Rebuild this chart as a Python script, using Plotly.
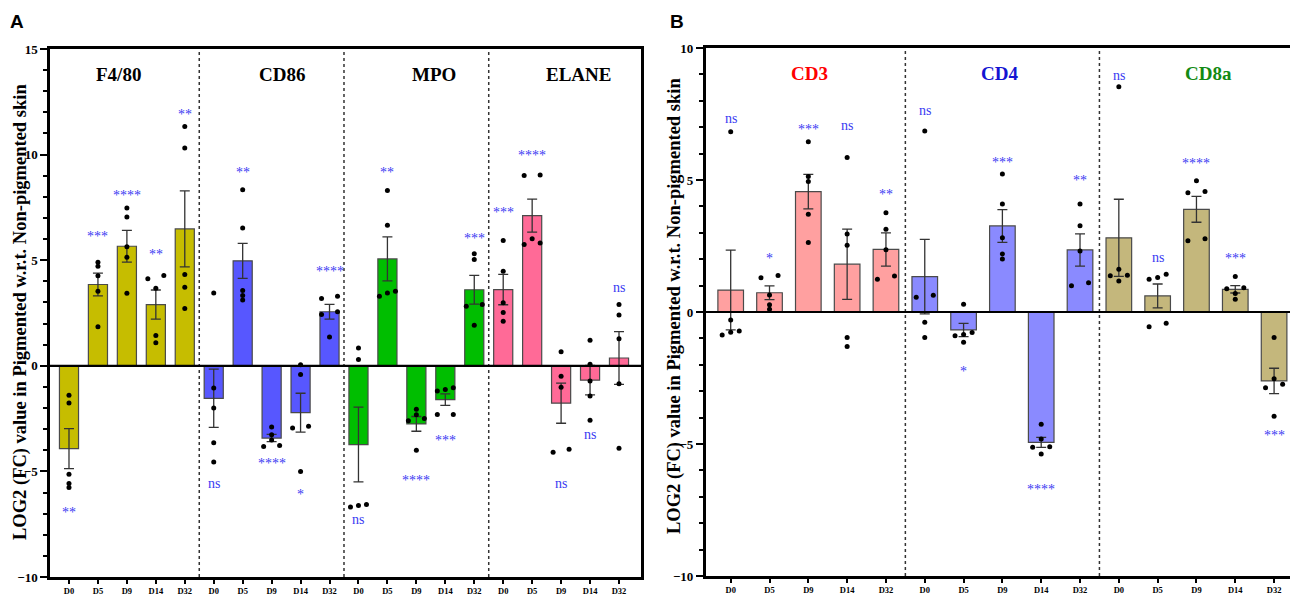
import numpy as np
import plotly.graph_objects as go

days = ["D0", "D5", "D9", "D14", "D32"]

# ---------------- Panel A data ----------------
a_groups = ["F4/80", "CD86", "MPO", "ELANE"]
a_colors = ["#C6BD00", "#5757FF", "#00BE00", "#FF6A97"]

f480_mean = [-3.92, 3.85, 5.66, 2.90, 6.48]
f480_sem = [0.95, 0.54, 0.75, 0.69, 1.80]
f480_pts = [[-1.40, -1.76, -5.13, -5.57, -5.76], [4.90, 4.71, 4.26, 3.53, 1.85],
            [7.47, 7.05, 5.64, 5.14, 3.44], [4.12, 4.27, 3.67, 1.44, 1.09],
            [11.33, 10.31, 4.32, 3.72, 2.71]]
f480_sig = ["**", "***", "****", "**", "**"]
f480_sig_y = [-6.75, 6.29, 8.26, 5.45, 12.08]

cd86_mean = [-1.54, 4.97, -3.42, -2.22, 2.56]
cd86_sem = [1.38, 0.83, 0.17, 0.92, 0.35]
cd86_pts = [[3.45, -1.05, -2.00, -3.64, -4.55], [8.34, 6.53, 3.56, 3.33, 3.12],
            [-2.90, -3.26, -3.51, -3.77, -3.82], [0.05, -0.41, -2.86, -2.94, -5.00],
            [3.29, 3.19, 2.56, 2.43, 1.36]]
cd86_sig = ["ns", "**", "****", "*", "****"]
cd86_sig_y = [-5.57, 9.36, -4.44, -5.92, 4.64]

mpo_mean = [-3.73, 5.06, -2.75, -1.60, 3.60]
mpo_sem = [1.77, 1.04, 0.35, 0.27, 0.68]
mpo_pts = [[0.84, 0.30, -6.69, -6.57, -6.61], [8.30, 6.65, 3.53, 3.45, 3.29],
           [-2.06, -2.32, -2.50, -2.60, -4.00], [-1.19, -1.12, -1.04, -2.31, -2.31],
           [5.30, 5.03, 2.90, 2.82, 1.92]]
mpo_sig = ["ns", "**", "****", "***", "***"]
mpo_sig_y = [-7.29, 9.36, -5.24, -3.34, 6.21]

elane_mean = [3.61, 7.11, -1.77, -0.68, 0.37]
elane_sem = [0.72, 0.78, 0.95, 0.70, 1.25]
elane_pts = [[5.93, 4.48, 2.98, 2.52, 2.11], [9.01, 9.04, 6.02, 5.82, 5.74],
             [0.67, -0.50, -1.01, -3.95, -4.09], [1.21, 0.07, -0.72, -1.43, -2.58],
             [2.90, 2.40, 1.28, -0.85, -3.90]]
elane_sig = ["***", "****", "ns", "ns", "ns"]
elane_sig_y = [7.44, 10.15, -5.57, -3.26, 3.72]

# ---------------- Panel B data ----------------
b_groups = ["CD3", "CD4", "CD8a"]
b_colors = ["#FFA0A0", "#8A8AFF", "#C4B77C"]
b_title_colors = ["#FF0000", "#1414D2", "#138A13"]

cd3_mean = [0.83, 0.73, 4.56, 1.81, 2.37]
cd3_sem = [1.51, 0.26, 0.65, 1.33, 0.63]
cd3_pts = [[6.83, -0.30, -0.72, -0.77, -0.87], [1.38, 1.30, 0.64, 0.27, 0.10],
           [6.45, 5.13, 4.94, 3.70, 2.63], [5.85, 2.95, 2.53, -0.97, -1.31],
           [3.76, 3.13, 2.36, 1.36, 1.24]]
cd3_sig = ["ns", "*", "***", "ns", "**"]
cd3_sig_y = [7.34, 2.19, 7.05, 7.05, 4.62]

cd4_mean = [1.34, -0.68, 3.26, -4.94, 2.35]
cd4_sem = [1.41, 0.25, 0.62, 0.19, 0.61]
cd4_pts = [[6.86, 0.63, 0.56, -0.39, -0.97], [0.29, -0.78, -0.85, -0.90, -1.15],
           [5.23, 4.09, 2.81, 2.20, 2.01], [-4.25, -4.81, -5.10, -5.12, -5.38],
           [4.09, 3.27, 2.31, 1.11, 0.99]]
cd4_sig = ["ns", "*", "***", "****", "**"]
cd4_sig_y = [7.63, -2.11, 5.80, -6.58, 5.13]

cd8a_mean = [2.81, 0.61, 3.89, 0.86, -2.61]
cd8a_sem = [1.46, 0.45, 0.49, 0.14, 0.48]
cd8a_pts = [[8.53, 1.62, 1.39, 1.37, 1.17], [1.43, 1.31, 1.24, -0.43, -0.56],
            [4.97, 4.56, 4.52, 2.77, 2.70], [1.34, 0.92, 0.88, 0.70, 0.48],
            [-0.97, -2.53, -2.74, -2.87, -3.95]]
cd8a_sig = ["ns", "ns", "****", "***", "***"]
cd8a_sig_y = [8.94, 2.07, 5.76, 2.19, -4.51]

a_title_x = [1.72, 7.36, 12.61, 17.6]
b_title_x = [2.03, 6.92, 12.32]

A = [(f480_mean, f480_sem, f480_pts, f480_sig, f480_sig_y),
     (cd86_mean, cd86_sem, cd86_pts, cd86_sig, cd86_sig_y),
     (mpo_mean, mpo_sem, mpo_pts, mpo_sig, mpo_sig_y),
     (elane_mean, elane_sem, elane_pts, elane_sig, elane_sig_y)]
B = [(cd3_mean, cd3_sem, cd3_pts, cd3_sig, cd3_sig_y),
     (cd4_mean, cd4_sem, cd4_pts, cd4_sig, cd4_sig_y),
     (cd8a_mean, cd8a_sem, cd8a_pts, cd8a_sig, cd8a_sig_y)]

SERIF = "Liberation Serif, Times New Roman, serif"
SIG_COLOR = "#3B3BF2"


def jitter(vals, thr, step):
    vals = np.asarray(vals, float)
    order = np.argsort(vals)
    offs = np.zeros(len(vals))
    clusters, cur = [], [order[0]]
    for i in order[1:]:
        if vals[i] - vals[cur[-1]] < thr:
            cur.append(i)
        else:
            clusters.append(cur)
            cur = [i]
    clusters.append(cur)
    for c in clusters:
        n = len(c)
        if n == 2:
            offs[c[0]], offs[c[1]] = -step, step
        elif n > 2:
            for k, idx in enumerate(c):
                offs[idx] = (k - (n - 1) / 2) * step
    return offs


fig = go.Figure()
annotations = []
shapes = []


def add_panel(groups, colors, data, xa, ya, thr, step, title_x, title_colors, title_y):
    for g, (name, col, (mean, sem, pts, sig, sig_y)) in enumerate(zip(groups, colors, data)):
        xs = [g * 5 + i for i in range(5)]
        fig.add_trace(go.Bar(
            x=xs, y=mean, width=0.66, marker=dict(color=col, line=dict(color="#4a4a4a", width=1.2)),
            error_y=dict(type="data", array=sem, visible=True, color="#333333", thickness=1.3, width=5),
            xaxis=xa, yaxis=ya, showlegend=False, name=name))
        px_, py_ = [], []
        for i, p in enumerate(pts):
            off = jitter(p, thr, step)
            px_ += list(xs[i] + off)
            py_ += list(p)
        fig.add_trace(go.Scatter(x=px_, y=py_, mode="markers",
                                 marker=dict(color="black", size=5),
                                 xaxis=xa, yaxis=ya, showlegend=False))
        for i in range(5):
            is_star = sig[i] != "ns"
            annotations.append(dict(
                x=xs[i], y=sig_y[i], xref=xa, yref=ya, text=sig[i], showarrow=False,
                xanchor="center", yanchor="middle",
                font=dict(family=SERIF, size=14, color=SIG_COLOR),
                yshift=-4 if is_star else 0))
        annotations.append(dict(
            x=title_x[g], y=title_y, xref=xa, yref=ya, text=name, showarrow=False,
            xanchor="center", yanchor="middle",
            font=dict(family=SERIF, size=19, color=title_colors[g], weight="bold")))
    # dotted separators
    for k in range(1, len(groups)):
        shapes.append(dict(type="line", xref=xa, yref=ya + " domain", x0=k * 5 - 0.5, x1=k * 5 - 0.5,
                           y0=0, y1=1, line=dict(color="#333333", width=1.5, dash="dot")))
    # zero line
    shapes.append(dict(type="line", xref=xa + " domain", yref=ya, x0=0, x1=1, y0=0, y1=0,
                       line=dict(color="black", width=2.2), layer="above"))


add_panel(a_groups, a_colors, A, "x", "y", 0.17, 0.276, a_title_x, ["black"] * 4, 13.8)
add_panel(b_groups, b_colors, B, "x2", "y2", 0.14, 0.22, b_title_x, b_title_colors, 9.05)

ytitle = "LOG2 (FC) value in Pigmented w.r.t. Non-pigmented skin"
for tx, ty in [(20, 312), (675, 306)]:
    annotations.append(dict(x=tx / 1290, y=1 - ty / 595, xref="paper", yref="paper", text=ytitle,
                            textangle=-90, showarrow=False, xanchor="center", yanchor="middle",
                            font=dict(family=SERIF, size=18.5, color="black", weight="bold")))
for lx, lab in [(17, "A"), (677, "B")]:
    annotations.append(dict(x=lx / 1290, y=1 - 22 / 595, xref="paper", yref="paper", text=lab,
                            showarrow=False, xanchor="center", yanchor="middle",
                            font=dict(family="Liberation Sans, Arial", size=19,
                                      color="black", weight="bold")))

xcommon = dict(showgrid=False, zeroline=False, showline=True, linecolor="black", linewidth=2.5,
               mirror=True, ticks="outside", ticklen=4, tickwidth=2, tickcolor="black",
               automargin=False,
               tickfont=dict(family=SERIF, size=8.5, color="black", weight="bold"))
ycommon = dict(showgrid=False, zeroline=False, showline=True, linecolor="black", linewidth=2.5,
               ticks="outside", ticklen=7, tickwidth=2, tickcolor="black", automargin=False,
               minor=dict(dtick=1, ticks="outside", ticklen=4, tickwidth=1.5, tickcolor="black"),
               tickfont=dict(family=SERIF, size=13, color="black", weight="bold"))

fig.update_layout(
    width=1290, height=595, margin=dict(l=0, r=0, t=0, b=0, autoexpand=False),
    paper_bgcolor="white", plot_bgcolor="white", barmode="overlay",
    xaxis=dict(domain=[50 / 1290, 641 / 1290], range=[-0.656, 19.76], tickvals=list(range(20)),
               ticktext=days * 4, anchor="y", **xcommon),
    yaxis=dict(domain=[1 - 577 / 595, 1 - 49 / 595], range=[-10, 15], tickvals=[-10, -5, 0, 5, 10, 15],
               anchor="x", mirror=True, **ycommon),
    xaxis2=dict(domain=[705.7 / 1290, 1.0], range=[-0.644, 14.41], tickvals=list(range(15)),
                ticktext=days * 3, anchor="y2", **xcommon),
    yaxis2=dict(domain=[1 - 576 / 595, 1 - 48 / 595], range=[-10, 10], tickvals=[-10, -5, 0, 5, 10],
                anchor="x2", **ycommon),
    annotations=annotations, shapes=shapes,
)

fig.write_html("out.html", config={"displayModeBar": False},
               post_script="document.body.style.margin='0';document.body.style.overflow='hidden';")
